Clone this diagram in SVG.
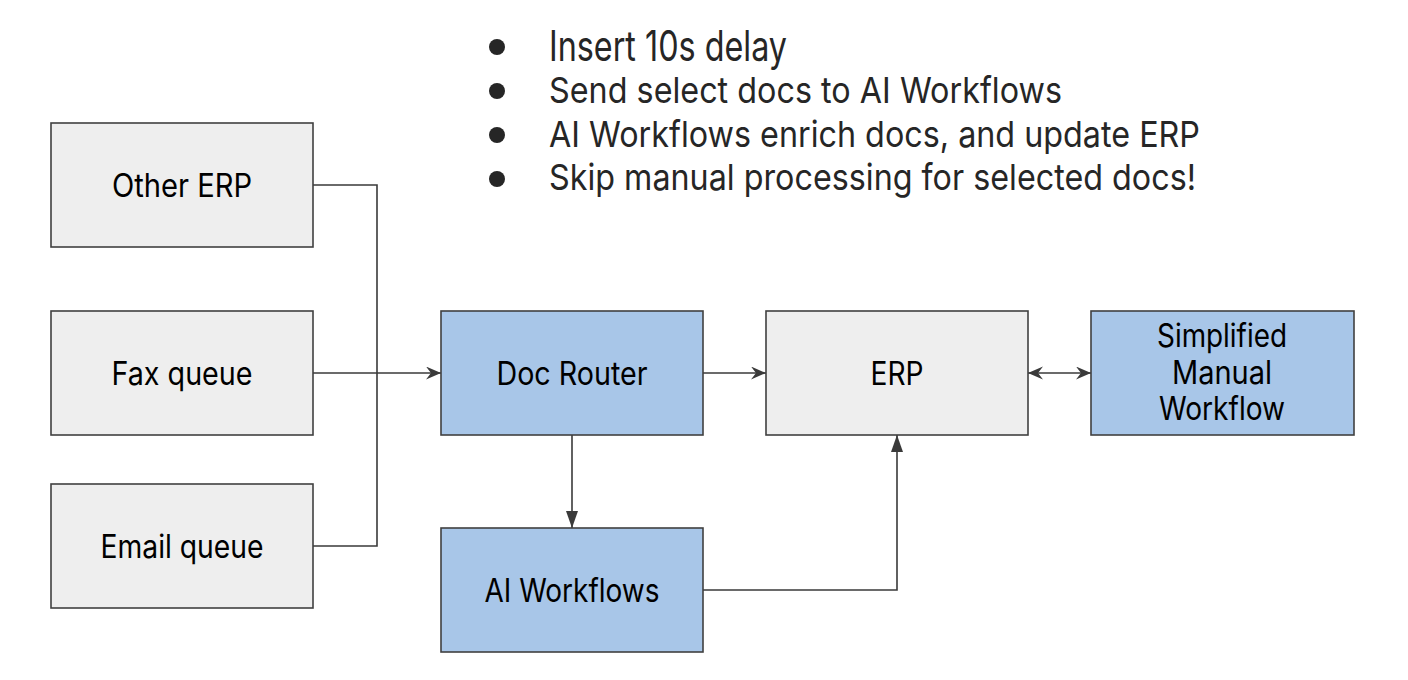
<svg xmlns="http://www.w3.org/2000/svg" width="1408" height="680" viewBox="0 0 1408 680">
<style>
.box{stroke:#404040;stroke-width:1.6}
.gray{fill:#eeeeee}
.blue{fill:#a8c6e8}
.lbl{font-family:Inter,"Noto Sans",sans-serif;font-size:32px;fill:#000;text-anchor:middle}
.bul{font-family:Inter,"Noto Sans",sans-serif;font-size:36px;fill:#262626}
.conn{fill:none;stroke:#3a3a3a;stroke-width:1.6}
</style>
<defs>
<marker id="ah" markerUnits="userSpaceOnUse" markerWidth="16" markerHeight="14" refX="15" refY="6.5" orient="auto-start-reverse">
<path d="M0,0 L15,6.5 L0,13 L5,6.5 Z" fill="#3a3a3a"/>
</marker>
<marker id="at" markerUnits="userSpaceOnUse" markerWidth="18" markerHeight="12" refX="17" refY="6" orient="auto">
<path d="M0,0 L17,6 L0,12 Z" fill="#3a3a3a"/>
</marker>
</defs>
<g id="notes">
<circle cx="497" cy="47" r="8" fill="#262626"/>
<circle cx="497" cy="91" r="8" fill="#262626"/>
<circle cx="497" cy="135" r="8" fill="#262626"/>
<circle cx="497" cy="179" r="8" fill="#262626"/>
<text class="bul" x="549" y="61" style="font-size:42px" textLength="238" lengthAdjust="spacingAndGlyphs">Insert 10s delay</text>
<text class="bul" x="549" y="103" textLength="513" lengthAdjust="spacingAndGlyphs">Send select docs to AI Workflows</text>
<text class="bul" x="549" y="147" textLength="651" lengthAdjust="spacingAndGlyphs">AI Workflows enrich docs, and update ERP</text>
<text class="bul" x="549" y="190" textLength="647" lengthAdjust="spacingAndGlyphs">Skip manual processing for selected docs!</text>
</g>
<g id="connectors">
<path class="conn" d="M313,185 H377 V546 H313"/>
<path class="conn" d="M313,373 H441" marker-end="url(#ah)"/>
<path class="conn" d="M703,373 H766" marker-end="url(#ah)"/>
<path class="conn" d="M1028,373 H1091" marker-start="url(#ah)" marker-end="url(#ah)"/>
<path class="conn" d="M572,435 V528" marker-end="url(#at)"/>
<path class="conn" d="M703,590 H897 V435" marker-end="url(#at)"/>
</g>
<g id="other-erp">
<rect class="box gray" x="51" y="123" width="262" height="124"/>
<text class="lbl" x="182" y="197" textLength="140" lengthAdjust="spacingAndGlyphs">Other ERP</text>
</g>
<g id="fax-queue">
<rect class="box gray" x="51" y="311" width="262" height="124"/>
<text class="lbl" x="182" y="385" textLength="141" lengthAdjust="spacingAndGlyphs">Fax queue</text>
</g>
<g id="email-queue">
<rect class="box gray" x="51" y="484" width="262" height="124"/>
<text class="lbl" x="182" y="558" textLength="163" lengthAdjust="spacingAndGlyphs">Email queue</text>
</g>
<g id="doc-router">
<rect class="box blue" x="441" y="311" width="262" height="124"/>
<text class="lbl" x="572" y="385" textLength="151" lengthAdjust="spacingAndGlyphs">Doc Router</text>
</g>
<g id="erp">
<rect class="box gray" x="766" y="311" width="262" height="124"/>
<text class="lbl" x="897" y="385" textLength="53" lengthAdjust="spacingAndGlyphs">ERP</text>
</g>
<g id="simplified-manual-workflow">
<rect class="box blue" x="1091" y="311" width="263" height="124"/>
<text class="lbl" x="1222" y="347" textLength="130" lengthAdjust="spacingAndGlyphs">Simplified</text>
<text class="lbl" x="1222" y="384" textLength="100" lengthAdjust="spacingAndGlyphs">Manual</text>
<text class="lbl" x="1222" y="420" textLength="126" lengthAdjust="spacingAndGlyphs">Workflow</text>
</g>
<g id="ai-workflows">
<rect class="box blue" x="441" y="528" width="262" height="124"/>
<text class="lbl" x="572" y="602" textLength="175" lengthAdjust="spacingAndGlyphs">AI Workflows</text>
</g>
</svg>
